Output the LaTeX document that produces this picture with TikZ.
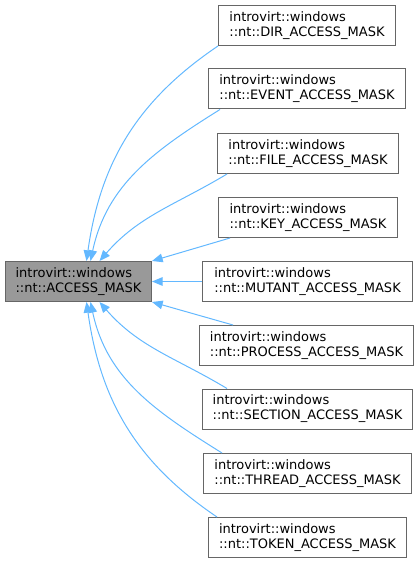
\documentclass[tikz,border=0pt]{standalone}
\usepackage{fontspec}
\setmainfont{DejaVu Sans}
\usetikzlibrary{arrows.meta}
\definecolor{edgeblue}{HTML}{63B8FF}
\definecolor{boxgray}{HTML}{666666}
\definecolor{basegray}{HTML}{999999}
\begin{document}
\begin{tikzpicture}[x=0.75pt, y=-0.75pt, font=\fontsize{9.75}{11.25}\selectfont,
	mask/.style={draw=boxgray, fill=white, line width=0.75pt, align=left, inner sep=0pt, minimum height=30pt},
	basemask/.style={mask, fill=basegray},
	inherit/.style={draw=edgeblue, line width=0.75pt, -{Triangle[length=8pt, width=6.5pt]}}]
	\useasboundingbox (-0.5,-0.5) rectangle (419.5,562.5);
	% base class
	\node[basemask, minimum width=109.5pt] (base) at (78,281) {introvirt::windows\\::nt::ACCESS\_MASK};
	% derived classes
	\node[mask, minimum width=132.75pt] (dir) at (306.5,25) {introvirt::windows\\::nt::DIR\_ACCESS\_MASK};
	\node[mask, minimum width=147.75pt] (event) at (306.5,88.5) {introvirt::windows\\::nt::EVENT\_ACCESS\_MASK};
	\node[mask, minimum width=135.75pt] (file) at (307.5,153) {introvirt::windows\\::nt::FILE\_ACCESS\_MASK};
	\node[mask, minimum width=134.25pt] (key) at (307.5,217) {introvirt::windows\\::nt::KEY\_ACCESS\_MASK};
	\node[mask, minimum width=157.5pt] (mutant) at (307,281) {introvirt::windows\\::nt::MUTANT\_ACCESS\_MASK};
	\node[mask, minimum width=160.5pt] (process) at (306,345) {introvirt::windows\\::nt::PROCESS\_ACCESS\_MASK};
	\node[mask, minimum width=157.5pt] (section) at (307,408.5) {introvirt::windows\\::nt::SECTION\_ACCESS\_MASK};
	\node[mask, minimum width=156pt] (thread) at (307,473) {introvirt::windows\\::nt::THREAD\_ACCESS\_MASK};
	\node[mask, minimum width=148.5pt] (token) at (307,537) {introvirt::windows\\::nt::TOKEN\_ACCESS\_MASK};
	% inheritance edges
	\draw[inherit] (dir.south west) to[out=214, in=82] ([xshift=6pt]base.north);
	\draw[inherit] ([xshift=9pt]event.south west) to[out=212, in=78] ([xshift=9pt]base.north);
	\draw[inherit] ([xshift=7.5pt]file.south west) to[out=211, in=49] ([xshift=15.75pt]base.north);
	\draw[inherit] ([xshift=9pt]key.south west) -- (base.north east);
	\draw[inherit] (mutant.west) -- (base.east);
	\draw[inherit] ([xshift=25.5pt]process.north west) -- (base.south east);
	\draw[inherit] ([xshift=18.75pt]section.north west) to[out=149, in=-49] ([xshift=15.75pt]base.south);
	\draw[inherit] ([xshift=14.25pt]thread.north west) to[out=148, in=-78] ([xshift=9pt]base.south);
	\draw[inherit] ([xshift=6.75pt]token.north west) to[out=146, in=-82] ([xshift=6pt]base.south);
\end{tikzpicture}
\end{document}
